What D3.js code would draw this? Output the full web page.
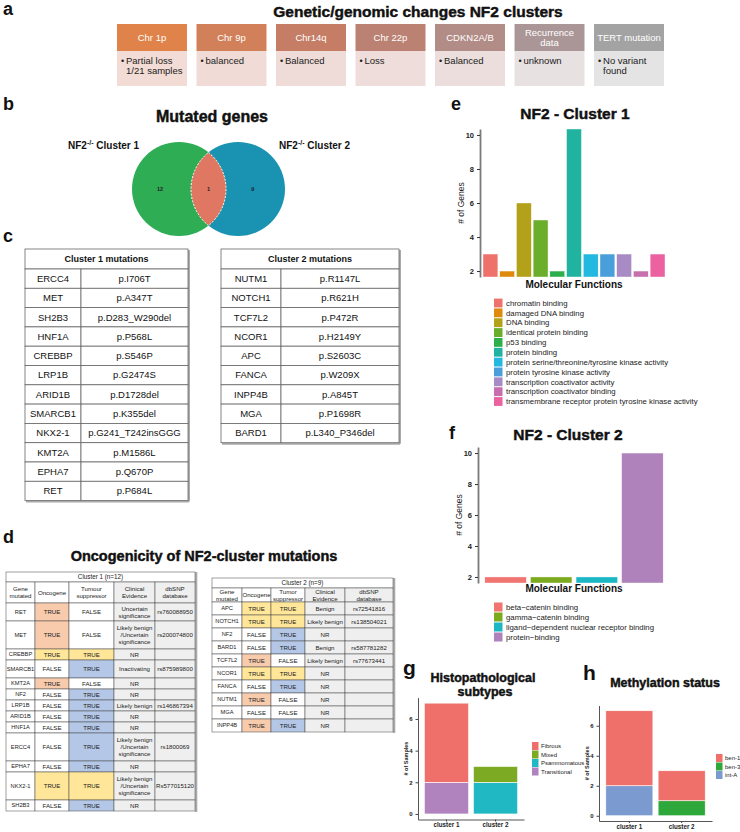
<!DOCTYPE html>
<html>
<head>
<meta charset="utf-8">
<script src="https://cdn.jsdelivr.net/npm/d3@7"></script>
<style>
  body { margin: 0; background: #fff; }
  svg { display: block; }
</style>
</head>
<body>
<svg id="fig" width="740" height="832"></svg>
<script>
// ---------- data ----------
// a: genetic / genomic changes
const chrHeaders = ["Chr 1p", "Chr 9p", "Chr14q", "Chr 22p", "CDKN2A/B", "Recurrence|data", "TERT mutation"]
const chrFindings = [["Partial loss", "1/21 samples"], ["balanced"], ["Balanced"], ["Loss"], ["Balanced"], ["unknown"], ["No variant", "found"]]
const chrHeadColors = ["#E0834A", "#D18059", "#C67D66", "#BB8173", "#B28C86", "#AA9696", "#A3A3A3"]
const chrBodyColors = ["#F3DCD5", "#F0DBD6", "#EFDCD8", "#EEDDDA", "#EBDEDC", "#E8E1E1", "#E4E4E4"]

// b: venn
const vennSets = ["Cluster 1", "Cluster 2"]
const vennCounts = [12, 1, 9]   // only 1, shared, only 2

// c: mutations per cluster
const c1Genes = ["ERCC4", "MET", "SH2B3", "HNF1A", "CREBBP", "LRP1B", "ARID1B", "SMARCB1", "NKX2-1", "KMT2A", "EPHA7", "RET"]
const c1Muts = ["p.I706T", "p.A347T", "p.D283_W290del", "p.P568L", "p.S546P", "p.G2474S", "p.D1728del", "p.K355del", "p.G241_T242insGGG", "p.M1586L", "p.Q670P", "p.P684L"]
const c2Genes = ["NUTM1", "NOTCH1", "TCF7L2", "NCOR1", "APC", "FANCA", "INPP4B", "MGA", "BARD1"]
const c2Muts = ["p.R1147L", "p.R621H", "p.P472R", "p.H2149Y", "p.S2603C", "p.W209X", "p.A845T", "p.P1698R", "p.L340_P346del"]

// d: oncogenicity
const d1Genes = ["RET", "MET", "CREBBP", "SMARCB1", "KMT2A", "NF2", "LRP1B", "ARID1B", "HNF1A", "ERCC4", "EPHA7", "NKX2-1", "SH2B3"]
const d1Onc = [true, true, true, false, true, false, false, false, false, false, false, true, false]
const d1Tsg = [false, false, true, true, false, true, true, true, true, true, true, true, true]
const d1Dual = [false, false, true, false, false, false, false, false, false, false, false, true, false]
const d1Clin = ["Uncertain|significance", "Likely benign|/Uncertain|significance", "NR", "Inactivating", "NR", "NR", "Likely benign", "NR", "NR", "Likely benign|/Uncertain|significance", "NR", "Likely benign|/Uncertain|significance", "NR"]
const d1Snp = ["rs760088950", "rs200074800", "", "rs875989800", "", "", "rs146867394", "", "", "rs1800069", "", "Rs577015120", ""]
const d1Lines = [2, 3, 1, 2, 1, 1, 1, 1, 1, 3, 1, 3, 1]

const d2Genes = ["APC", "NOTCH1", "NF2", "BARD1", "TCF7L2", "NCOR1", "FANCA", "NUTM1", "MGA", "INPP4B"]
const d2Onc = [true, true, false, false, true, true, false, true, false, true]
const d2Tsg = [true, true, true, true, false, true, true, false, false, true]
const d2Dual = [true, true, false, false, false, true, false, false, false, false]
const d2Clin = ["Benign", "Likely benign", "NR", "Benign", "Likely benign", "NR", "NR", "NR", "NR", "NR"]
const d2Snp = ["rs72541816", "rs138504021", "", "rs587781282", "rs77673441", "", "", "", "", ""]

// e, f: molecular functions
const mf1Names = ["chromatin binding", "damaged DNA binding", "DNA binding", "identical protein binding", "p53 binding", "protein binding", "protein serine/threonine/tyrosine kinase activity", "protein tyrosine kinase activity", "transcription coactivator activity", "transcription coactivator binding", "transmembrane receptor protein tyrosine kinase activity"]
const mf1Counts = [3, 2, 6, 5, 2, 10.35, 3, 3, 3, 2, 3]
const mf1Colors = ["#EE716C", "#DE8A0C", "#B3A11A", "#6AAE2C", "#2DAF4C", "#20B3A0", "#22B8E0", "#4A9FDA", "#A88BC4", "#C76FAE", "#EC62A0"]
const mf2Names = ["beta\u2212catenin binding", "gamma\u2212catenin binding", "ligand\u2212dependent nuclear receptor binding", "protein\u2212binding"]
const mf2Counts = [2, 2, 2, 10]
const mf2Colors = ["#F07470", "#7CAA1E", "#1CB7C5", "#AF82BC"]

// g: histopathological subtypes
const clusterNames = ["cluster 1", "cluster 2"]
const histoTypes = ["Fibrous", "Mixed", "Psammomatous", "Transitional"]
const histoFibrous = [5, 0]
const histoMixed = [0, 1]
const histoPsammomatous = [0, 2]
const histoTransitional = [2, 0]
const histoColors = ["#EF6F6B", "#7CAA22", "#1FB8C3", "#B083BF"]

// h: methylation status
const methTypes = ["ben-1", "ben-3", "int-A"]
const methBen1 = [5, 2]
const methBen3 = [0, 1]
const methIntA = [2, 0]
const methColors = ["#EF6F6B", "#2EA83A", "#7B9BD0"]

// ---------- helpers ----------
const SANS = "'Liberation Sans', Arial, Helvetica, sans-serif"
const NARROW = "'Liberation Sans Narrow', 'Liberation Sans', Arial, sans-serif"
const svg = d3.select('#fig')

function multi(g, arr, x, yc, lh, anchor) {
  const t = g.append('text').attr('x', x).attr('text-anchor', anchor || 'middle')
  arr.forEach((s, i) => {
    t.append('tspan').attr('x', x)
      .attr('y', yc - (arr.length - 1) * lh / 2 + i * lh)
      .attr('dy', '0.35em').text(s)
  })
  return t
}

function label(txt, x, y, size, weight) {
  return svg.append('text').attr('x', x).attr('y', y)
    .attr('font-family', SANS).attr('font-size', size).attr('font-weight', weight || 'bold')
    .attr('fill', '#111').text(txt)
}
// heavy titles (ggplot / Arial Black look)
function title(txt, x, y, size) {
  return label(txt, x, y, size).attr('text-anchor', 'middle')
    .attr('stroke', '#111').attr('stroke-width', 0.45).attr('paint-order', 'stroke')
}

// ---------- panel letters & titles ----------
label('a', 3, 15, 18)
label('b', 3, 110, 18)
label('c', 3, 242, 18)
label('d', 3, 543, 18)
label('e', 451, 110, 18)
label('f', 449, 439, 18)
label('g', 403, 675, 21)
label('h', 583, 680, 21)

title('Genetic/genomic changes NF2 clusters', 418, 17, 15.5)
title('Mutated genes', 212, 122, 16)
title('Oncogenicity of NF2-cluster mutations', 204, 561, 14.5)
title('NF2 - Cluster 1', 575, 119, 15.5)
title('NF2 - Cluster 2', 568, 440, 15.5)
title('Histopathological', 483, 682, 12.5)
title('subtypes', 485, 696, 12.5)
title('Methylation status', 665, 687, 12.5)

// ---------- a: boxes ----------
const boxX = d3.scaleBand().domain(d3.range(chrHeaders.length)).range([117, 664]).paddingInner(0.12)
const ga = svg.append('g').attr('font-family', NARROW)
chrHeaders.forEach((h, i) => {
  const x = boxX(i), w = boxX.bandwidth()
  ga.append('rect').attr('x', x).attr('y', 24).attr('width', w).attr('height', 27).attr('fill', chrHeadColors[i])
  ga.append('rect').attr('x', x).attr('y', 51).attr('width', w).attr('height', 35).attr('fill', chrBodyColors[i])
  multi(ga, h.split('|'), x + w / 2, 37.5, 10).attr('fill', '#fff').attr('font-size', 9.5)
  chrFindings[i].forEach((s, j) => {
    if (j === 0) ga.append('text').attr('x', x + 4).attr('y', 64).attr('font-size', 9).attr('fill', '#222').text('\u2022')
    ga.append('text').attr('x', x + 9).attr('y', 64 + j * 10).attr('font-size', 9.5).attr('fill', '#222').text(s)
  })
})

// ---------- b: venn ----------
const vx = d3.scaleLinear().domain([0, 1]).range([179, 238])
const vy = 189, vr = 47
const gb = svg.append('g')
gb.append('circle').attr('cx', vx(1)).attr('cy', vy).attr('r', vr).attr('fill', '#1A93B3')
gb.append('circle').attr('cx', vx(0)).attr('cy', vy).attr('r', vr).attr('fill', '#2EAD55')
const half = (vx(1) - vx(0)) / 2
const hh = Math.sqrt(vr * vr - half * half)
const mx = vx(0.5)
gb.append('path')
  .attr('d', `M${mx},${vy - hh} A${vr},${vr} 0 0 1 ${mx},${vy + hh} A${vr},${vr} 0 0 1 ${mx},${vy - hh}Z`)
  .attr('fill', '#E07762').attr('stroke', '#fff').attr('stroke-width', 1).attr('stroke-dasharray', '2,1.5')
;[vx(-0.32), vx(0.5), vx(1.25)].forEach((x, i) => {
  gb.append('text').attr('x', x).attr('y', vy).attr('dy', '0.35em').attr('text-anchor', 'middle')
    .attr('font-family', SANS).attr('font-size', 5.5).attr('font-weight', 'bold').attr('fill', '#222').text(vennCounts[i])
})
;[[68, vennSets[0]], [279, vennSets[1]]].forEach(([x, s]) => {
  const t = gb.append('text').attr('x', x).attr('y', 149).attr('font-family', SANS)
    .attr('font-size', 10).attr('font-weight', 'bold').attr('fill', '#111')
  t.append('tspan').text('NF2')
  t.append('tspan').attr('dy', -4).attr('font-size', 7).text('-/-')
  t.append('tspan').attr('dy', 4).text(' ' + s)
})

// ---------- c: mutation tables ----------
function mutTable(x0, xs, x1, title, genes, muts) {
  const g = svg.append('g').attr('font-family', SANS)
  const top = 249, headH = 20
  const y = d3.scaleBand().domain(d3.range(genes.length)).range([top + headH, top + headH + genes.length * 19.3])
  const bottom = y.range()[1]
  g.append('line').attr('x1', x1 + 1).attr('x2', x1 + 1).attr('y1', top + 1).attr('y2', bottom + 1).attr('stroke', '#aaa').attr('stroke-width', 2)
  g.append('line').attr('x1', x0 + 1).attr('x2', x1 + 1).attr('y1', bottom + 1).attr('y2', bottom + 1).attr('stroke', '#aaa').attr('stroke-width', 2)
  g.append('rect').attr('x', x0).attr('y', top).attr('width', x1 - x0).attr('height', headH).attr('fill', '#fff').attr('stroke', '#666').attr('stroke-width', 0.8)
  g.append('text').attr('x', (x0 + x1) / 2).attr('y', top + headH / 2).attr('dy', '0.35em').attr('text-anchor', 'middle')
    .attr('font-size', 9).attr('font-weight', 'bold').attr('fill', '#111').text(title)
  genes.forEach((gn, i) => {
    g.append('rect').attr('x', x0).attr('y', y(i)).attr('width', xs - x0).attr('height', y.bandwidth()).attr('fill', '#fff').attr('stroke', '#666').attr('stroke-width', 0.8)
    g.append('rect').attr('x', xs).attr('y', y(i)).attr('width', x1 - xs).attr('height', y.bandwidth()).attr('fill', '#fff').attr('stroke', '#666').attr('stroke-width', 0.8)
    g.append('text').attr('x', (x0 + xs) / 2).attr('y', y(i) + y.bandwidth() / 2).attr('dy', '0.35em').attr('text-anchor', 'middle')
      .attr('font-size', 9.5).attr('fill', '#111').text(gn)
    g.append('text').attr('x', (xs + x1) / 2).attr('y', y(i) + y.bandwidth() / 2).attr('dy', '0.35em').attr('text-anchor', 'middle')
      .attr('font-size', 9.5).attr('fill', '#111').text(muts[i])
  })
}
mutTable(25, 81, 188, 'Cluster 1 mutations', c1Genes, c1Muts)
mutTable(221, 281, 399, 'Cluster 2 mutations', c2Genes, c2Muts)

// ---------- d: oncogenicity tables ----------
const SALMON = '#F8CBAD', YELLOW = '#FFE699', BLUE = '#B4C7E7', GREY = '#EFEFEF'
function oncTable(cols, top, clusterTitle, colHeads, genes, onc, tsg, dual, clin, snp, rowH, headH) {
  const g = svg.append('g').attr('font-family', NARROW).attr('fill', '#222')
  const x0 = cols[0], x1 = cols[cols.length - 1]
  const ys = [top + 10 + headH]
  rowH.forEach(h => ys.push(ys[ys.length - 1] + h))
  const bottom = ys[ys.length - 1]
  g.append('line').attr('x1', x1 + 1.2).attr('x2', x1 + 1.2).attr('y1', top).attr('y2', bottom + 1).attr('stroke', '#aaa').attr('stroke-width', 2.2)
  const cell = (c, yA, h, fill) => g.append('rect').attr('x', cols[c]).attr('y', yA).attr('width', cols[c + 1] - cols[c]).attr('height', h)
    .attr('fill', fill).attr('stroke', '#444').attr('stroke-width', 0.5)
  const txt = (c, yc, arr) => multi(g, arr, (cols[c] + cols[c + 1]) / 2, yc, 7).attr('font-size', 6.1)
  g.append('rect').attr('x', x0).attr('y', top).attr('width', x1 - x0).attr('height', 10).attr('fill', '#fff').attr('stroke', '#444').attr('stroke-width', 0.5)
  multi(g, [clusterTitle], (x0 + x1) / 2, top + 5, 7).attr('font-size', 6.3)
  colHeads.forEach((hd, c) => {
    cell(c, top + 10, headH, c >= 3 ? GREY : '#fff')
    txt(c, top + 10 + headH / 2, hd.split('|'))
  })
  genes.forEach((gn, i) => {
    const yA = ys[i], h = rowH[i], yc = yA + h / 2
    const oFill = onc[i] ? (dual[i] ? YELLOW : SALMON) : '#fff'
    const tFill = tsg[i] ? (dual[i] ? YELLOW : BLUE) : '#fff'
    cell(0, yA, h, '#fff'); txt(0, yc, [gn]).attr('font-size', 5.7)
    cell(1, yA, h, oFill); txt(1, yc, [onc[i] ? 'TRUE' : 'FALSE'])
    cell(2, yA, h, tFill); txt(2, yc, [tsg[i] ? 'TRUE' : 'FALSE'])
    cell(3, yA, h, GREY); txt(3, yc, clin[i].split('|'))
    cell(4, yA, h, GREY); txt(4, yc, [snp[i]])
  })
}
const lineH = { 1: 11, 2: 18, 3: 28 }
oncTable([6, 35, 69, 114, 155, 195], 572, 'Cluster 1 (n=12)',
  ['Gene|mutated', 'Oncogene', 'Tumour|suppressor', 'Clinical|Evidence', 'dbSNP|database'],
  d1Genes, d1Onc, d1Tsg, d1Dual, d1Clin, d1Snp, d1Lines.map(n => lineH[n]), 21)
oncTable([212, 242, 271, 305, 345, 393], 578, 'Cluster 2 (n=9)',
  ['Gene|mutated', 'Oncogene', 'Tumor|suppressor', 'Clinical|Evidence', 'dbSNP|database'],
  d2Genes, d2Onc, d2Tsg, d2Dual, d2Clin, d2Snp, d2Genes.map(() => 13), 14)

// ---------- e, f: bar charts ----------
function mfChart(names, counts, colors, xr, outer, inner, yDom, yRange, axisX, ylab, xlabY, legY, legStep) {
  const g = svg.append('g').attr('font-family', SANS)
  const x = d3.scaleBand().domain(names).range(xr).paddingInner(inner).paddingOuter(outer)
  const y = d3.scaleLinear().domain(yDom).range(yRange)
  const col = d3.scaleOrdinal().domain(names).range(colors)
  g.selectAll('rect.bar').data(d3.zip(names, counts)).join('rect').attr('class', 'bar')
    .attr('x', d => x(d[0])).attr('width', x.bandwidth())
    .attr('y', d => y(d[1])).attr('height', d => y(yDom[0]) - y(d[1]))
    .attr('fill', d => col(d[0])).attr('stroke', '#fff').attr('stroke-width', 0.4)
  const ax = g.append('g').attr('transform', `translate(${axisX},0)`)
    .call(d3.axisLeft(y).tickValues([2, 4, 6, 8, 10]).tickSize(3).tickSizeOuter(0))
  ax.select('.domain').attr('stroke', '#7a7a7a').attr('stroke-width', 1.8)
  ax.selectAll('.tick line').attr('stroke', '#333')
  ax.selectAll('.tick text').attr('font-size', 7.5).attr('font-weight', 'bold').attr('fill', '#222').attr('font-family', SANS)
  const ymid = (yRange[0] + yRange[1]) / 2
  g.append('text').attr('transform', `translate(${axisX - 16},${ymid}) rotate(-90)`).attr('text-anchor', 'middle')
    .attr('font-size', 8.5).attr('fill', '#222').text(ylab)
  g.append('text').attr('x', (xr[0] + xr[1]) / 2).attr('y', xlabY).attr('text-anchor', 'middle')
    .attr('font-size', 10).attr('font-weight', 'bold').attr('fill', '#111').text('Molecular Functions')
  names.forEach((n, i) => {
    const yc = legY + i * legStep
    g.append('rect').attr('x', 494).attr('y', yc - legStep / 2 + 0.5).attr('width', 8.5).attr('height', legStep - 1).attr('fill', col(n))
    g.append('text').attr('x', 506).attr('y', yc).attr('dy', '0.35em').attr('font-size', 7.8).attr('fill', '#222').text(n)
  })
}
mfChart(mf1Names, mf1Counts, mf1Colors, [480, 668], 0.18, 0.11, [1.65, 10.35], [277, 129], 480, '# of Genes', 288, 303, 9.85)
mfChart(mf2Names, mf2Counts, mf2Colors, [478, 670], 0.15, 0.09, [1.61, 10.39], [583, 447], 478, '# of Genes', 592, 607, 10)

// ---------- g, h: stacked bars ----------
function stackChart(keys, series, colors, stackOrder, xr, yRange, axisX, legX, legY) {
  const g = svg.append('g').attr('font-family', SANS)
  const rows = clusterNames.map((c, i) => {
    const o = { cluster: c }
    keys.forEach((k, j) => { o[k] = series[j][i] })
    return o
  })
  const x = d3.scaleBand().domain(clusterNames).range(xr).paddingInner(0.1).paddingOuter(0.13)
  const y = d3.scaleLinear().domain([-0.35, 7.35]).range(yRange)
  const col = d3.scaleOrdinal().domain(keys).range(colors)
  const stacked = d3.stack().keys(stackOrder)(rows)
  g.selectAll('g.layer').data(stacked).join('g').attr('class', 'layer').attr('fill', d => col(d.key))
    .selectAll('rect').data(d => d.filter(p => p[1] > p[0])).join('rect')
    .attr('x', d => x(d.data.cluster)).attr('width', x.bandwidth())
    .attr('y', d => y(d[1])).attr('height', d => y(d[0]) - y(d[1]))
    .attr('stroke', '#fff').attr('stroke-width', 0.6)
  const ay = g.append('g').attr('transform', `translate(${axisX},0)`)
    .call(d3.axisLeft(y).tickValues([0, 2, 4, 6]).tickSize(2.5).tickSizeOuter(0))
  const axb = g.append('g').attr('transform', `translate(0,${yRange[0]})`)
    .call(d3.axisBottom(x).tickSize(2).tickSizeOuter(0).tickPadding(1.5))
  ;[ay, axb].forEach(a => {
    a.select('.domain').attr('stroke', '#555').attr('stroke-width', 1)
    a.selectAll('.tick line').attr('stroke', '#444')
    a.selectAll('.tick text').attr('font-size', 6).attr('font-weight', 'bold').attr('fill', '#222').attr('font-family', SANS)
  })
  axb.selectAll('.tick text').attr('font-size', 6.3)
  g.append('text').attr('transform', `translate(${axisX - 10},${y(3.5)}) rotate(-90)`).attr('text-anchor', 'middle')
    .attr('font-size', 5.5).attr('font-weight', 'bold').attr('fill', '#222').text('# of Samples')
  keys.forEach((k, i) => {
    const yc = legY + i * 8.5
    g.append('rect').attr('x', legX).attr('y', yc - 4).attr('width', 6.5).attr('height', 8).attr('fill', col(k))
    g.append('text').attr('x', legX + 9).attr('y', yc).attr('dy', '0.35em').attr('font-size', 6).attr('fill', '#222').text(k)
  })
}
stackChart(histoTypes, [histoFibrous, histoMixed, histoPsammomatous, histoTransitional], histoColors,
  ['Transitional', 'Psammomatous', 'Mixed', 'Fibrous'], [418, 524], [819.5, 697.6], 418, 532, 746)
stackChart(methTypes, [methBen1, methBen3, methIntA], methColors,
  ['int-A', 'ben-3', 'ben-1'], [599, 712], [821, 705.5], 599, 716, 758)
</script>
</body>
</html>
